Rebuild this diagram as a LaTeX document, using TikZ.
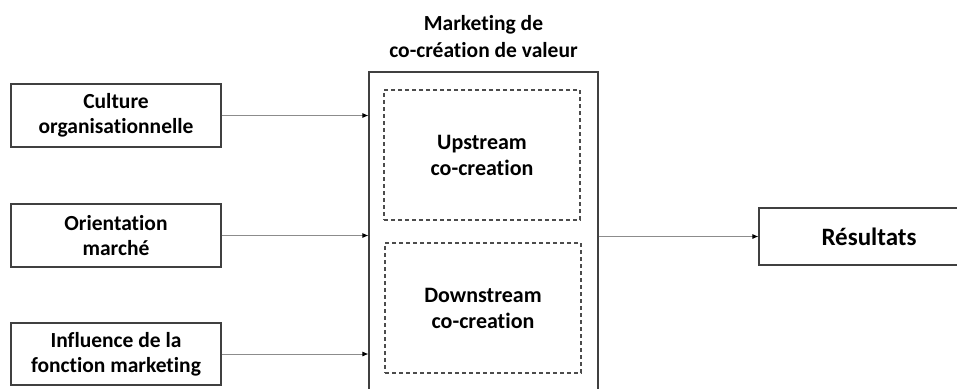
\documentclass[tikz,border=0pt]{standalone}
\usepackage{fontspec}
\setmainfont{Carlito}[Ligatures={NoCommon,NoRare,NoContextual}]
\usetikzlibrary{arrows.meta}
\begin{document}
\begin{tikzpicture}[x=1pt,y=-1pt,
    box/.style={draw=black!75,line width=1.2pt,minimum width=210pt,minimum height=63pt,
      align=center,inner sep=0pt,font=\bfseries\fontsize{21.5}{25}\selectfont},
    dbox/.style={draw=black!70,line width=1.2pt,dash pattern=on 4pt off 3pt,
      minimum width=196pt,minimum height=130pt,align=center,inner sep=0pt,
      font=\bfseries\fontsize{22}{26}\selectfont},
    arr/.style={draw=black!45,line width=0.8pt,-{Latex[black,length=6pt,width=5pt]}}]

        \useasboundingbox (0,0) rectangle (957,388);

        % inputs
        \node[box] (cult) at (116,115.5) {Culture\\organisationnelle};
        \node[box] (orient) at (116,235.5) {Orientation\\marché};
        \node[box,minimum height=62pt] (infl) at (116,354) {Influence de la\\fonction marketing};

        % co-creation block
        \node[draw=black!75,line width=1.2pt,minimum width=229pt,minimum height=330pt,
          inner sep=0pt] (mcv) at (483.5,237) {};
        \node[align=center,font=\bfseries\fontsize{21.5}{27}\selectfont,anchor=north,inner sep=0pt]
          (titre) at (483.5,15) {Marketing de\\co-création de valeur};
        \node[dbox] (up) at (482,155) {Upstream\\co-creation};
        \node[dbox] (down) at (483,308) {Downstream\\co-creation};

        % output
        \node[box,minimum width=220pt,minimum height=57pt,font=\bfseries\fontsize{25}{28}\selectfont]
          (res) at (869,236.5) {Résultats};

        \draw[arr] (cult.east) -- (cult.east -| mcv.west);
        \draw[arr] (orient.east) -- (orient.east -| mcv.west);
        \draw[arr] (infl.east) -- (infl.east -| mcv.west);
        \draw[arr] (mcv.east |- res.west) -- (res.west);
    \end{tikzpicture}
\end{document}
